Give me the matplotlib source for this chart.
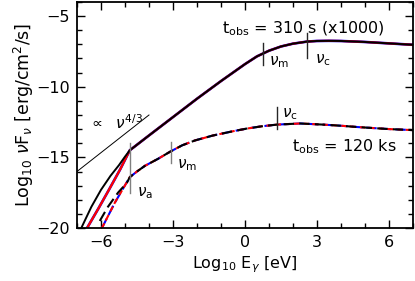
import matplotlib
matplotlib.use("Agg")
import matplotlib.pyplot as plt
from matplotlib.ticker import MultipleLocator

plt.rcParams['font.family'] = ['DejaVu Sans']
plt.rcParams['mathtext.fontset'] = 'dejavusans'

# ---- data (log10 E [eV], log10 nuFnu) ----
# upper spectrum (t_obs = 310 s, x1000), common part above nu_a
up_x = [-4.8, -4.0, -3.0, -2.0, -1.0, -0.5, 0.0, 0.5, 1.0, 1.5, 2.0, 2.6, 3.0, 3.5, 4.0, 5.0, 6.0, 7.0]
up_y = [-14.5, -13.45, -12.15, -10.85, -9.6, -9.0, -8.4, -7.85, -7.45, -7.15, -6.95, -6.8, -6.76, -6.75, -6.76, -6.83, -6.93, -7.03]
# low-energy branches of the upper spectrum
up_black_x = [-6.82, -6.4, -6.0, -5.6, -5.25, -5.0]
up_black_y = [-20.0, -18.5, -17.3, -16.3, -15.55, -14.95]
up_red_x = [-6.58, -6.1, -5.67, -5.2]
up_red_y = [-20.0, -18.6, -17.3, -15.85]

# lower spectrum (t_obs = 120 ks), common part above nu_a
lo_x = [-4.8, -4.5, -4.17, -3.62, -3.12, -2.62, -2.08, -1.33, -0.5, 0.08, 0.7, 1.33, 2.3, 3.25, 4.0, 4.67, 5.3, 6.04, 7.0]
lo_y = [-16.4, -16.0, -15.6, -15.1, -14.6, -14.15, -13.8, -13.45, -13.15, -12.96, -12.8, -12.68, -12.6, -12.68, -12.76, -12.85, -12.92, -13.0, -13.07]
lo_black_x = [-6.05, -5.71, -5.29, -4.92]
lo_black_y = [-19.5, -18.5, -17.5, -16.8]
lo_red_x = [-5.96, -5.42]
lo_red_y = [-20.0, -18.2]

# nu^{4/3} guide line
guide_x = [-7.0, -4.0]
guide_y = [-16.0, -12.0]

# characteristic-frequency markers
mark_x = [-4.8, -3.1, 0.75, 2.6, 1.33]
mark_ytop = [-14.0, -13.9, -6.9, -6.2, -11.45]
mark_ybot = [-17.5, -15.4, -8.45, -7.97, -13.0]
mark_lab = [r'$\nu_{\rm a}$', r'$\nu_{\rm m}$', r'$\nu_{\rm m}$', r'$\nu_{\rm c}$', r'$\nu_{\rm c}$']
mark_lx = [-4.5, -2.85, 1.02, 2.9, 1.56]
mark_ly = [-17.75, -15.8, -8.5, -8.35, -12.15]
mark_col = ['0.5', '0.5', '0.15', '0.15', '0.15']

fig = plt.figure(figsize=(4.15, 2.81), dpi=100)
ax = fig.add_axes([0.1855, 0.1886, 0.8095, 0.8043])

lw = 1.5
# upper spectrum
ax.plot(up_red_x + up_x, up_red_y + up_y, color='blue', lw=lw + 0.4, solid_capstyle='butt')
ax.plot(up_red_x + up_x, up_red_y + up_y, color='red', lw=lw + 0.1, solid_capstyle='butt')
ax.plot(up_black_x + up_x, up_black_y + up_y, color='black', lw=lw - 0.1, solid_capstyle='butt')

# lower spectrum (dashed)
ax.plot(lo_red_x + lo_x, lo_red_y + lo_y, color='blue', lw=lw, dashes=(5, 2), dash_capstyle='butt')
ax.plot(lo_red_x + lo_x, lo_red_y + lo_y, color='red', lw=lw, dashes=(2.5, 1.5, 3, 2), dash_capstyle='butt')
ax.plot(lo_black_x + lo_x, lo_black_y + lo_y, color='black', lw=lw, dashes=(5, 2.5), dash_capstyle='butt')

# guide line
ax.plot(guide_x, guide_y, color='black', lw=0.7)
ax.text(-6.5, -13.0, r'$\propto$  $\nu^{4/3}$', fontsize=11, ha='left', va='baseline')

for mx, yt, yb, lab, lx, ly, c in zip(mark_x, mark_ytop, mark_ybot, mark_lab, mark_lx, mark_ly, mark_col):
    ax.plot([mx, mx], [yb, yt], color=c, lw=1.0)
    ax.text(lx, ly, lab, fontsize=11, ha='left', va='baseline')

ax.text(-0.95, -6.2, r't$_{\rm obs}$ = 310 s (x1000)', fontsize=11.5, ha='left', va='baseline')
ax.text(1.96, -14.55, r't$_{\rm obs}$ = 120 ks', fontsize=11.5, ha='left', va='baseline')

ax.set_xlim(-7, 7)
ax.set_ylim(-20, -4)
ax.xaxis.set_major_locator(MultipleLocator(3))
ax.xaxis.set_minor_locator(MultipleLocator(1))
ax.yaxis.set_major_locator(MultipleLocator(5))
ax.yaxis.set_minor_locator(MultipleLocator(1))
ax.tick_params(which='both', direction='in', top=True, right=True, width=1.0, labelsize=11.5)
ax.tick_params(which='major', length=6, pad=5)
ax.tick_params(which='minor', length=3.5)
for s in ax.spines.values():
    s.set_linewidth(1.3)

ax.set_xlabel(r'Log$_{10}$ E$_\gamma$ [eV]', fontsize=11.5, labelpad=3)
ax.set_ylabel(r'Log$_{10}$ $\nu$F$_\nu$ [erg/cm$^2$/s]', fontsize=12.5, labelpad=0)

fig.savefig('out.png', dpi=100)
